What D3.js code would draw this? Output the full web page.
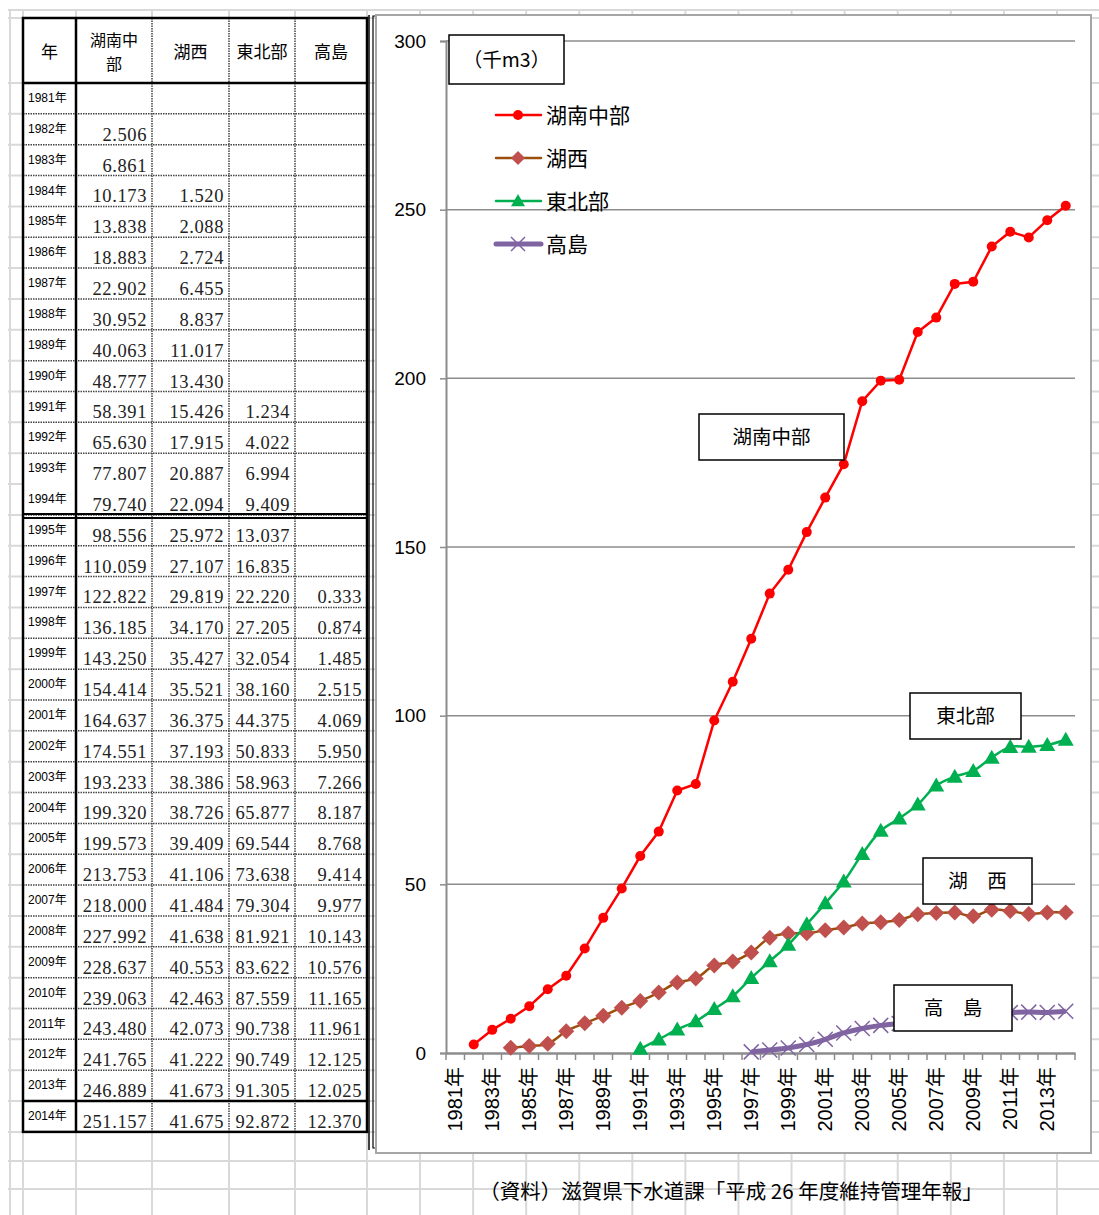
<!DOCTYPE html>
<html><head><meta charset="utf-8">
<script src="https://cdn.jsdelivr.net/npm/d3@7"></script>
<style>body{margin:0;background:#fff} svg{display:block}</style>
</head><body><svg id="c" width="1099" height="1215"></svg>
<script>
const years = [1981,1982,1983,1984,1985,1986,1987,1988,1989,1990,1991,1992,1993,1994,1995,1996,1997,1998,1999,2000,2001,2002,2003,2004,2005,2006,2007,2008,2009,2010,2011,2012,2013,2014];
const seriesNames = ["湖南中部","湖西","東北部","高島"];
const konanChubu = [null,2.506,6.861,10.173,13.838,18.883,22.902,30.952,40.063,48.777,58.391,65.630,77.807,79.740,98.556,110.059,122.822,136.185,143.250,154.414,164.637,174.551,193.233,199.320,199.573,213.753,218.000,227.992,228.637,239.063,243.480,241.765,246.889,251.157];
const kosei = [null,null,null,1.520,2.088,2.724,6.455,8.837,11.017,13.430,15.426,17.915,20.887,22.094,25.972,27.107,29.819,34.170,35.427,35.521,36.375,37.193,38.386,38.726,39.409,41.106,41.484,41.638,40.553,42.463,42.073,41.222,41.673,41.675];
const tohokubu = [null,null,null,null,null,null,null,null,null,null,1.234,4.022,6.994,9.409,13.037,16.835,22.220,27.205,32.054,38.160,44.375,50.833,58.963,65.877,69.544,73.638,79.304,81.921,83.622,87.559,90.738,90.749,91.305,92.872];
const takashima = [null,null,null,null,null,null,null,null,null,null,null,null,null,null,null,null,0.333,0.874,1.485,2.515,4.069,5.950,7.266,8.187,8.768,9.414,9.977,10.143,10.576,11.165,11.961,12.125,12.025,12.370];
const yTicks = [0,50,100,150,200,250,300];
const xTickYears = [1981,1983,1985,1987,1989,1991,1993,1995,1997,1999,2001,2003,2005,2007,2009,2011,2013];
const unitLabel = "（千m3）";
const tableHeaders = ["年","湖南中部","湖西","東北部","高島"];
const sourceText = "（資料）滋賀県下水道課「平成 26 年度維持管理年報」";

const svg = d3.select("#c");
const JP = "'Noto Sans CJK JP', 'Noto Sans', sans-serif";
const SANSJP = "'Liberation Sans', Arial, 'Noto Sans CJK JP', sans-serif";
const SERIF = "'Liberation Serif', 'DejaVu Serif', serif";

// ---- background spreadsheet grid ----
const colX = [23,76,152,229,295,367];
const headerTop = 18, headerBot = 83, rowH = 30.85;
const rowY = years.map((d,i)=>headerBot + i*rowH);
const tableBot = headerBot + years.length*rowH;
const bgV = [10,23,76,152,229,295,367];
for (let k=0;k<=13;k++) bgV.push(420 + k*53.08);
const bgH = [10, headerTop, headerBot, ...rowY.slice(1), tableBot, tableBot+29, tableBot+57, tableBot+86];
const g0 = svg.append("g").attr("stroke","#D9D9D9").attr("stroke-width",2);
bgV.forEach(x=>g0.append("line").attr("x1",x).attr("x2",x).attr("y1",10).attr("y2",1215));
bgH.forEach(y=>g0.append("line").attr("x1",8).attr("x2",1099).attr("y1",y).attr("y2",y));

// ---- table ----
const tg = svg.append("g");
tg.append("rect").attr("x",colX[0]).attr("y",headerTop).attr("width",colX[5]-colX[0]).attr("height",tableBot-headerTop).attr("fill","#fff");
const dotted = {stroke:"#444","stroke-width":1.5,"stroke-dasharray":"1.5,1"};
function ln(x1,y1,x2,y2,attrs){const l=tg.append("line").attr("x1",x1).attr("y1",y1).attr("x2",x2).attr("y2",y2);for(const k in attrs)l.attr(k,attrs[k]);return l;}
rowY.slice(1).forEach((y,i)=>{ if(i!==12 && i!==32) ln(colX[0],y,colX[5],y,dotted); });
[2,3,4].forEach(c=>ln(colX[c],headerTop,colX[c],tableBot,dotted));
const solid = {stroke:"#000","stroke-width":2.5};
ln(colX[1],headerTop,colX[1],tableBot,solid);
ln(colX[0],headerBot,colX[5],headerBot,solid);
ln(colX[0],rowY[14]-1,colX[5],rowY[14]-1,{stroke:"#000","stroke-width":2});
ln(colX[0],rowY[14]+3,colX[5],rowY[14]+3,{stroke:"#000","stroke-width":2});
ln(colX[0],rowY[33],colX[5],rowY[33],solid);
tg.append("rect").attr("x",colX[0]).attr("y",headerTop).attr("width",colX[5]-colX[0]).attr("height",tableBot-headerTop).attr("fill","none").attr("stroke","#000").attr("stroke-width",2.5);
tableHeaders.forEach((h,i)=>{
  const cx = (colX[i]+colX[i+1])/2;
  if (h.length===4) {
    tg.append("text").attr("x",cx).attr("y",46).attr("text-anchor","middle").attr("font-family",JP).attr("font-size",16).attr("fill","#000").text(h.slice(0,3));
    tg.append("text").attr("x",cx).attr("y",70).attr("text-anchor","middle").attr("font-family",JP).attr("font-size",16).attr("fill","#000").text(h.slice(3));
  } else {
    tg.append("text").attr("x",cx).attr("y",58).attr("text-anchor","middle").attr("font-family",JP).attr("font-size",17).attr("fill","#000").text(h);
  }
});
const seriesArr = [konanChubu,kosei,tohokubu,takashima];
const fmt = d3.format(".3f");
years.forEach((yr,i)=>{
  const top = rowY[i];
  tg.append("text").attr("x",28).attr("y",top+19).attr("font-family",SANSJP).attr("font-size",12).attr("fill","#000")
    .text(yr+"年");
  seriesArr.forEach((s,c)=>{
    if (s[i]==null) return;
    tg.append("text").attr("x",colX[c+2]-5).attr("y",top+rowH-4).attr("text-anchor","end")
      .attr("font-family",SERIF).attr("font-size",18.5).attr("letter-spacing",0.6).attr("fill","#222").text(fmt(s[i]));
  });
});

// ---- chart frame ----
svg.append("line").attr("x1",369).attr("x2",369).attr("y1",15).attr("y2",1150).attr("stroke","#000").attr("stroke-width",1.5);
svg.append("path").attr("d","M377,16H373V1148H377").attr("fill","none").attr("stroke","#000").attr("stroke-width",1.2);
svg.append("rect").attr("x",376).attr("y",15).attr("width",715).attr("height",1138).attr("fill","#fff").attr("stroke","#A6A6A6").attr("stroke-width",2);

const x = d3.scaleBand().domain(years).range([446,1075]);
const y = d3.scaleLinear().domain([0,300]).range([1053,41]);
const cg = svg.append("g");
cg.append("g").selectAll("line").data(yTicks.filter(d=>d>0)).join("line")
  .attr("x1",446).attr("x2",1075).attr("y1",d=>y(d)).attr("y2",d=>y(d)).attr("stroke","#8C8C8C").attr("stroke-width",1.5);
const yAx = cg.append("g").attr("transform","translate(446,0)").call(d3.axisLeft(y).tickValues(yTicks).tickSize(6).tickPadding(14));
yAx.select(".domain").attr("stroke","#8C8C8C").attr("stroke-width",2);
yAx.selectAll(".tick line").attr("stroke","#8C8C8C").attr("stroke-width",1.5);
yAx.selectAll("text").attr("font-family","'Liberation Sans', Arial, sans-serif").attr("font-size",19).attr("fill","#000");
const xAx = cg.append("g").attr("transform","translate(0,1053)").call(d3.axisBottom(x).tickValues(xTickYears).tickFormat(d=>d+"年").tickSize(0));
xAx.select(".domain").attr("stroke","#8C8C8C").attr("stroke-width",2.5);
xAx.selectAll("text").attr("font-family",SANSJP).attr("font-size",20).attr("fill","#000")
  .attr("transform","rotate(-90)").attr("text-anchor","end").attr("x",-14).attr("y",0).attr("dy","0.36em");
cg.append("g").selectAll("line").data(years.concat([null])).join("line")
  .attr("x1",(d,i)=>446+i*x.step()).attr("x2",(d,i)=>446+i*x.step()).attr("y1",1053).attr("y2",1060).attr("stroke","#8C8C8C").attr("stroke-width",1.5);

const cx = d=>x(d.year)+x.bandwidth()/2;
function pts(arr){return years.map((yr,i)=>({year:yr,v:arr[i]})).filter(d=>d.v!=null);}
const lineStraight = d3.line().x(cx).y(d=>y(d.v));
const lineSmooth = d3.line().x(cx).y(d=>y(d.v)).curve(d3.curveCatmullRom.alpha(0.5));

const tk = pts(takashima);
cg.append("path").datum(tk).attr("d",lineSmooth).attr("fill","none").attr("stroke","#8064A2").attr("stroke-width",5);
const xm = (g,s)=>g.append("path").attr("d",`M${-s},${-s}L${s},${s}M${-s},${s}L${s},${-s}`).attr("stroke","#8064A2").attr("stroke-width",1.5).attr("fill","none");
cg.append("g").selectAll("g").data(tk).join("g").attr("transform",d=>`translate(${cx(d)},${y(d.v)})`).each(function(){xm(d3.select(this),7.5);});
const ks = pts(kosei);
cg.append("path").datum(ks).attr("d",lineSmooth).attr("fill","none").attr("stroke","#9C4E0C").attr("stroke-width",2.5);
const diamond = s=>`M0,${-s}L${s},0L0,${s}L${-s},0Z`;
cg.append("g").selectAll("path").data(ks).join("path").attr("d",diamond(8)).attr("transform",d=>`translate(${cx(d)},${y(d.v)})`).attr("fill","#C0504D");
const th = pts(tohokubu);
cg.append("path").datum(th).attr("d",lineSmooth).attr("fill","none").attr("stroke","#00B050").attr("stroke-width",2.5);
const tri = s=>`M0,${-s}L${s},${s*0.75}L${-s},${s*0.75}Z`;
cg.append("g").selectAll("path").data(th).join("path").attr("d",tri(8)).attr("transform",d=>`translate(${cx(d)},${y(d.v)})`).attr("fill","#00B050");
const kc = pts(konanChubu);
cg.append("path").datum(kc).attr("d",lineStraight).attr("fill","none").attr("stroke","#FF0000").attr("stroke-width",2.5);
cg.append("g").selectAll("circle").data(kc).join("circle").attr("cx",cx).attr("cy",d=>y(d.v)).attr("r",5).attr("fill","#FF0000");

const legend = cg.append("g");
const legY = [115,158,201,244];
const legStyles = [
  {stroke:"#FF0000",w:2.5,m:g=>g.append("circle").attr("r",5).attr("fill","#FF0000")},
  {stroke:"#9C4E0C",w:2.5,m:g=>g.append("path").attr("d",diamond(7)).attr("fill","#C0504D")},
  {stroke:"#00B050",w:2.5,m:g=>g.append("path").attr("d",tri(7)).attr("fill","#00B050")},
  {stroke:"#8064A2",w:5,m:g=>xm(g,7)}
];
seriesNames.forEach((n,i)=>{
  const g = legend.append("g").attr("transform",`translate(0,${legY[i]})`);
  g.append("line").attr("x1",496).attr("x2",541).attr("stroke",legStyles[i].stroke).attr("stroke-width",legStyles[i].w).attr("stroke-linecap","round");
  legStyles[i].m(g.append("g").attr("transform","translate(518,0)"));
  g.append("text").attr("x",546).attr("y",0).attr("dy","0.36em").attr("font-family",JP).attr("font-size",21).attr("fill","#000").text(n);
});

function box(x0,y0,w,h,txt){
  cg.append("rect").attr("x",x0).attr("y",y0).attr("width",w).attr("height",h).attr("fill","#fff").attr("stroke","#000").attr("stroke-width",1.5);
  cg.append("text").attr("x",x0+w/2).attr("y",y0+h/2).attr("dy","0.36em").attr("text-anchor","middle").attr("font-family",JP).attr("font-size",19.5).attr("fill","#000").text(txt);
}
box(449,35,115,49,unitLabel);
box(699,414,145,46,seriesNames[0]);
box(910,693,111,46,seriesNames[2]);
box(923,858,109,46,"湖　西");
box(894,985,118,46,"高　島");

svg.append("text").attr("x",731).attr("y",1199).attr("text-anchor","middle").attr("font-family",JP).attr("font-size",20.5).attr("fill","#000").text(sourceText);
</script></body></html>
